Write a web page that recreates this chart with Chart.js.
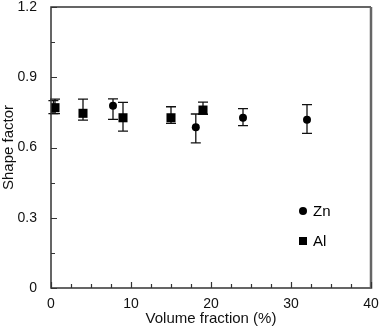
<!DOCTYPE html>
<html>
<head>
<meta charset="utf-8">
<script src="https://cdn.jsdelivr.net/npm/chart.js@4.4.1/dist/chart.umd.min.js"></script>
<style>
    html, body { margin: 0; padding: 0; background: #fff; }
    #wrap { width: 379px; height: 328px; }
</style>
</head>
<body>
<div id="wrap"><canvas id="myChart" width="379" height="328"></canvas></div>
<script>
// Zn (circles)
const znX = [0.3, 7.75, 18.1, 24, 32];
const znY = [0.765, 0.778, 0.686, 0.727, 0.719];
const znLow = [0.745, 0.72, 0.62, 0.693, 0.66];
const znHigh = [0.80, 0.808, 0.743, 0.766, 0.783];

// Al (squares)
const alX = [0.5, 4, 9, 15, 19];
const alY = [0.77, 0.746, 0.727, 0.727, 0.76];
const alLow = [0.745, 0.717, 0.67, 0.703, 0.742];
const alHigh = [0.807, 0.807, 0.793, 0.774, 0.794];

const xTicks = [0, 10, 20, 30, 40];
const yTicks = [0, 0.3, 0.6, 0.9, 1.2];

const FONT = '"Liberation Sans", Arial, sans-serif';

function toPoints(xs, ys, lows, highs) {
    return xs.map((x, i) => ({ x: x, y: ys[i], lo: lows[i], hi: highs[i] }));
}

// error bars, drawn under the markers
const errorBars = {
    id: 'errorBars',
    beforeDatasetsDraw(chart) {
        const ctx = chart.ctx;
        const xs = chart.scales.x, ys = chart.scales.y;
        ctx.save();
        ctx.strokeStyle = '#111';
        ctx.lineWidth = 1.3;
        chart.data.datasets.forEach(ds => {
            ds.data.forEach(p => {
                const px = xs.getPixelForValue(p.x);
                const top = ys.getPixelForValue(p.hi);
                const bot = ys.getPixelForValue(p.lo);
                ctx.beginPath();
                ctx.moveTo(px, top); ctx.lineTo(px, bot);
                ctx.moveTo(px - 5, top); ctx.lineTo(px + 5, top);
                ctx.moveTo(px - 5, bot); ctx.lineTo(px + 5, bot);
                ctx.stroke();
            });
        });
        ctx.restore();
    }
};

// frame, inward ticks and legend
const frame = {
    id: 'frame',
    afterDraw(chart) {
        const ctx = chart.ctx;
        const a = chart.chartArea;
        const xs = chart.scales.x, ys = chart.scales.y;
        ctx.save();
        ctx.strokeStyle = '#333';
        ctx.lineWidth = 1.5;
        ctx.beginPath();
        ctx.moveTo(a.right, a.top); ctx.lineTo(a.left, a.top);
        ctx.lineTo(a.left, a.bottom); ctx.lineTo(a.right, a.bottom);
        ctx.stroke();
        ctx.strokeStyle = '#666';
        ctx.lineWidth = 2.5;
        ctx.beginPath();
        ctx.moveTo(a.right, a.top); ctx.lineTo(a.right, a.bottom + 1);
        ctx.stroke();

        ctx.strokeStyle = '#333';
        ctx.lineWidth = 1.2;
        ctx.beginPath();
        for (let v = 0; v <= 40; v += 2.5) {
            const px = Math.round(xs.getPixelForValue(v)) + 0.5;
            const len = v % 10 === 0 ? 6 : 4;
            ctx.moveTo(px, a.bottom); ctx.lineTo(px, a.bottom - len);
        }
        for (let i = 0; i <= 8; i++) {
            const py = Math.round(ys.getPixelForValue(i * 0.15)) + 0.5;
            const len = i % 2 === 0 ? 6 : 4;
            ctx.moveTo(a.left, py); ctx.lineTo(a.left + len, py);
        }
        ctx.stroke();

        // legend
        ctx.fillStyle = '#000';
        ctx.beginPath();
        ctx.arc(303, 211, 4, 0, Math.PI * 2);
        ctx.fill();
        ctx.fillRect(299, 237, 8, 8);
        ctx.font = '15px ' + FONT;
        ctx.textBaseline = 'middle';
        ctx.fillText('Zn', 313, 212);
        ctx.fillText('Al', 313, 242);
        ctx.restore();
    }
};

const config = {
    type: 'scatter',
    data: {
        datasets: [
            {
                label: 'Zn',
                data: toPoints(znX, znY, znLow, znHigh),
                pointStyle: 'circle',
                pointRadius: 4,
                backgroundColor: '#000',
                borderColor: '#000',
                borderWidth: 0
            },
            {
                label: 'Al',
                data: toPoints(alX, alY, alLow, alHigh),
                pointStyle: 'rect',
                pointRadius: 6.4,
                backgroundColor: '#000',
                borderColor: '#000',
                borderWidth: 0
            }
        ]
    },
    options: {
        responsive: false,
        animation: false,
        layout: { padding: { top: 7, right: 8, left: 0, bottom: 0 } },
        plugins: {
            legend: { display: false },
            tooltip: { enabled: false }
        },
        scales: {
            x: {
                type: 'linear',
                min: 0,
                max: 40,
                afterBuildTicks: scale => { scale.ticks = xTicks.map(v => ({ value: v })); },
                afterFit: scale => { scale.height = 40; scale.paddingRight = 0; scale.paddingLeft = 0; },
                grid: { display: false },
                border: { display: false },
                ticks: {
                    color: '#111',
                    font: { family: FONT, size: 14 },
                    padding: 0,
                    maxRotation: 0,
                    autoSkip: false
                },
                title: {
                    display: true,
                    text: 'Volume fraction (%)',
                    color: '#111',
                    font: { family: FONT, size: 15 },
                    padding: { top: 0, bottom: 0 }
                }
            },
            y: {
                type: 'linear',
                min: 0,
                max: 1.2,
                afterBuildTicks: scale => { scale.ticks = yTicks.map(v => ({ value: v })); },
                afterFit: scale => { scale.width = 51; scale.paddingTop = 0; scale.paddingBottom = 0; },
                grid: { display: false },
                border: { display: false },
                ticks: {
                    color: '#111',
                    font: { family: FONT, size: 14 },
                    padding: 6,
                    autoSkip: false,
                    callback: v => (v === 0 ? '0' : v.toFixed(1))
                },
                title: {
                    display: true,
                    text: 'Shape factor',
                    color: '#111',
                    font: { family: FONT, size: 15 },
                    padding: { top: 0, bottom: 0 }
                }
            }
        }
    },
    plugins: [errorBars, frame]
};

const ctx = document.getElementById('myChart').getContext('2d');
const myChart = new Chart(ctx, config);
</script>
</body>
</html>
